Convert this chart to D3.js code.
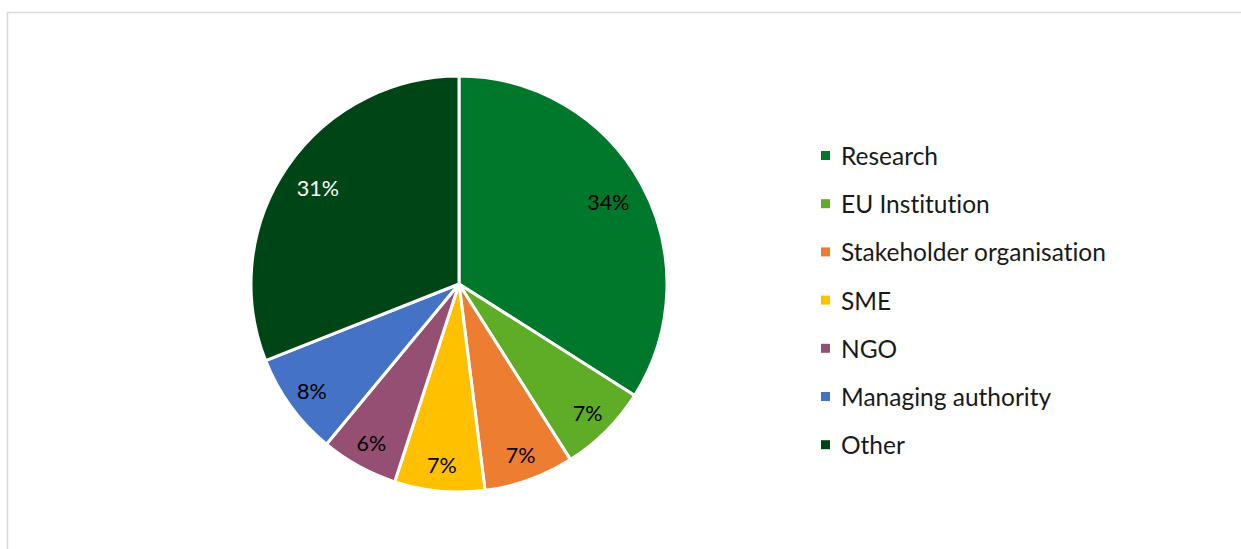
<!DOCTYPE html>
<html>
<head>
<meta charset="utf-8">
<script src="https://cdn.jsdelivr.net/npm/d3@7"></script>
<style>
  html, body { margin: 0; padding: 0; background: #ffffff; }
  svg { display: block; }
  text { font-family: Lato, "Open Sans", sans-serif; font-variant-ligatures: none; font-feature-settings: "liga" 0; }
</style>
</head>
<body>
<svg id="chart" width="1241" height="549"></svg>
<script>
// Share of participants by organisation type (%)
const categories = ["Research", "EU Institution", "Stakeholder organisation", "SME", "NGO", "Managing authority", "Other"];
const shares = [34, 7, 7, 7, 6, 8, 31];
const colors = ["#00782b", "#5fad26", "#ed7d31", "#ffc000", "#954f72", "#4472c4", "#004516"];
const labelColors = ["#000000", "#000000", "#000000", "#000000", "#000000", "#000000", "#ffffff"];

const svg = d3.select("#chart");
const W = 1241, H = 549;

// chart area frame (runs off the right and bottom of the page)
svg.append("rect")
  .attr("x", 7.5).attr("y", 12.5)
  .attr("width", W + 20).attr("height", H + 20)
  .attr("fill", "#ffffff")
  .attr("stroke", "#d9d9d9")
  .attr("stroke-width", 1.5);

const cx = 459, cy = 284, R = 208;

const data = categories.map((c, i) => ({ name: c, value: shares[i], color: colors[i], label: labelColors[i] }));

const pie = d3.pie().value(d => d.value).sort(null);
const arcs = pie(data);
const arc = d3.arc().innerRadius(0).outerRadius(R);

const g = svg.append("g").attr("transform", `translate(${cx},${cy})`);

g.selectAll("path.slice")
  .data(arcs)
  .join("path")
  .attr("class", "slice")
  .attr("d", arc)
  .attr("fill", d => d.data.color)
  .attr("stroke", "#ffffff")
  .attr("stroke-width", 3)
  .attr("stroke-linejoin", "round");

// percentage labels: wide slices sit a little further in than narrow ones
const labelArc = d => {
  const ratio = d.data.value > 20 ? 0.82 : 0.875;
  return d3.arc().innerRadius(R * ratio).outerRadius(R * ratio).centroid(d);
};

g.selectAll("text.pct")
  .data(arcs)
  .join("text")
  .attr("class", "pct")
  .attr("x", d => labelArc(d)[0])
  .attr("y", d => labelArc(d)[1])
  .attr("text-anchor", "middle")
  .attr("dominant-baseline", "central")
  .attr("font-size", 21.5)
  .attr("fill", d => d.data.label)
  .text(d => d.data.value + "%");

// legend
const legendX = 821, legendY0 = 155.5, legendStep = 48.2;
const legend = svg.append("g");
const rows = legend.selectAll("g.row")
  .data(data)
  .join("g")
  .attr("class", "row")
  .attr("transform", (d, i) => `translate(${legendX},${legendY0 + i * legendStep})`);

rows.append("rect")
  .attr("x", 0).attr("y", -4.5)
  .attr("width", 9).attr("height", 9)
  .attr("fill", d => d.color);

rows.append("text")
  .attr("x", 20)
  .attr("y", 0)
  .attr("dominant-baseline", "central")
  .attr("font-size", 24.5)
  .attr("fill", "#1a1a1a")
  .text(d => d.name);
</script>
</body>
</html>
